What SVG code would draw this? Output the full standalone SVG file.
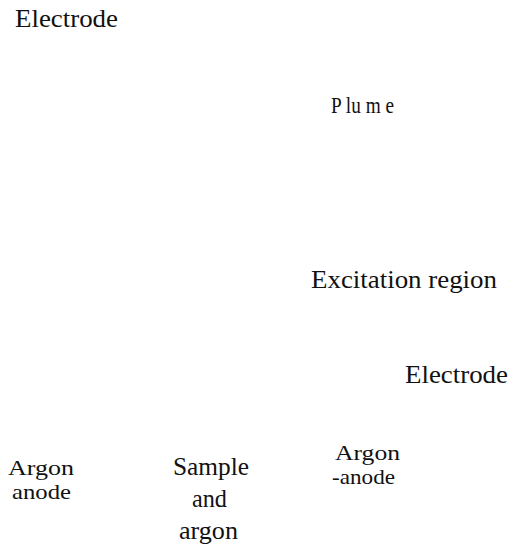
<svg xmlns="http://www.w3.org/2000/svg" width="514" height="552" viewBox="0 0 514 552">
<style>
.t{font-family:'Liberation Serif','Times New Roman',serif;font-size:25px;fill:#111;}
.s{font-size:21px;}
</style>
<rect width="514" height="552" fill="#fff"/>
<g id="electrode-top"><text class="t" x="15" y="27" textLength="103" lengthAdjust="spacingAndGlyphs">Electrode</text></g>
<g id="plume"><text class="t" x="331" y="113" style="font-size:23px" textLength="63" lengthAdjust="spacingAndGlyphs">P lu m e</text></g>
<g id="excitation"><text class="t" x="311" y="288" textLength="186" lengthAdjust="spacingAndGlyphs">Excitation region</text></g>
<g id="electrode-bottom"><text class="t" x="405" y="383" textLength="103" lengthAdjust="spacingAndGlyphs">Electrode</text></g>
<g id="argon-anode-left">
<text class="t s" x="8" y="475" textLength="66" lengthAdjust="spacingAndGlyphs">Argon</text>
<text class="t s" x="12" y="499" textLength="59" lengthAdjust="spacingAndGlyphs">anode</text>
</g>
<g id="sample-argon">
<text class="t" x="173" y="475" textLength="76" lengthAdjust="spacingAndGlyphs">Sample</text>
<text class="t" x="192" y="507" textLength="35" lengthAdjust="spacingAndGlyphs">and</text>
<text class="t" x="179" y="539" textLength="59" lengthAdjust="spacingAndGlyphs">argon</text>
</g>
<g id="argon-anode-right">
<text class="t s" x="335" y="460" textLength="65" lengthAdjust="spacingAndGlyphs">Argon</text>
<text class="t s" x="332" y="484" textLength="63" lengthAdjust="spacingAndGlyphs">-anode</text>
</g>
<g id="connectors"></g>
</svg>
